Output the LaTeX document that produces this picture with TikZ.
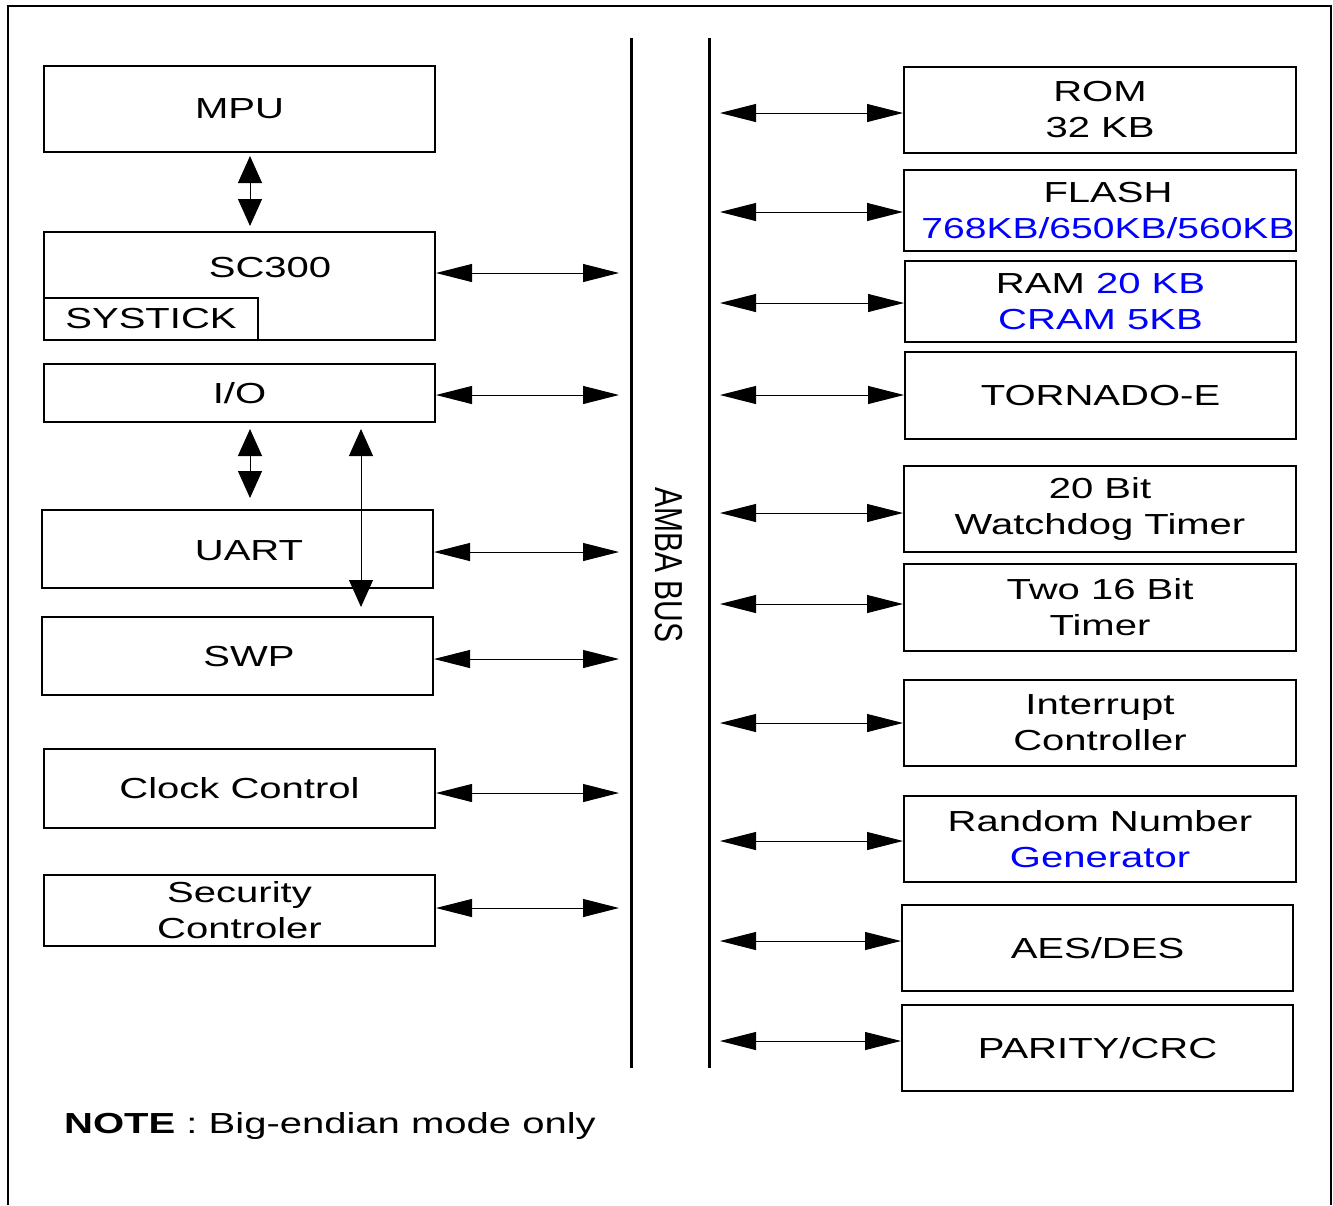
\documentclass[tikz,border=0pt]{standalone}
\usepackage{fontspec}
\setmainfont{Liberation Sans}[FakeStretch=1.38]
\newfontfamily\plainsans{Liberation Sans}
\usetikzlibrary{arrows.meta,calc}
\definecolor{mblue}{RGB}{0,0,255}
\begin{document}
\begin{tikzpicture}[x=1pt,y=-1pt,
  box/.style={draw, line width=2pt, inner sep=0pt, align=center, font=\fontsize{29}{36}\selectfont},
  txt/.style={inner sep=0pt, align=center, font=\fontsize{29}{36}\selectfont},
  harrow/.style={line width=1pt, {Triangle[length=36pt,width=18pt]}-{Triangle[length=36pt,width=18pt]}},
  varrow/.style={line width=1pt, {Triangle[length=27pt,width=24pt]}-{Triangle[length=27pt,width=24pt]}},
  bus/.style={line width=3pt},
  frame/.style={line width=2pt}]
\useasboundingbox (0,0) rectangle (1333,1205);
% outer frame
\draw[frame] (8,1205) -- (8,6) -- (1331,6) -- (1331,1205);
% bus
\coordinate (lbt) at (631,38); \coordinate (lbb) at (631,1068);
\coordinate (rbt) at (709,38); \coordinate (rbb) at (709,1068);
\draw[bus] (lbt) -- (lbb);
\draw[bus] (rbt) -- (rbb);
\coordinate (lb) at (619,0);
\coordinate (rb) at (720,0);
\node[rotate=-90, inner sep=0pt] (amba) at (669,565) {\scalebox{1}[1.3]{\plainsans\fontsize{30}{36}\selectfont AMBA BUS}};
% left boxes
\node[box, minimum width=391, minimum height=86] (mpu) at (239.5,109) {MPU};
\node[box, minimum width=391, minimum height=108] (sc300) at (239.5,286) {};
\node[txt] (sc300t) at (270,268) {SC300};
\node[box, minimum width=214, minimum height=42] (systick) at (151,319) {SYSTICK};
\node[box, minimum width=391, minimum height=58] (io) at (239.5,393) {I/O};
\node[box, minimum width=391, minimum height=78] (uart) at (237.5,549) {};
\node[txt] (uartt) at (249,551) {UART};
\node[box, minimum width=391, minimum height=78] (swp) at (237.5,656) {};
\node[txt] (swpt) at (249,657) {SWP};
\node[box, minimum width=391, minimum height=79] (clk) at (239.5,788.5) {Clock Control};
\node[box, minimum width=391, minimum height=71] (sec) at (239.5,910.5) {Security\\Controler};
% right boxes
\node[box, minimum width=392, minimum height=86] (rom) at (1100,110) {ROM\\32 KB};
\node[box, minimum width=392, minimum height=81] (flash) at (1100,210.5) {};
\node[txt] (flasht) at (1108,211) {FLASH\\\textcolor{mblue}{\scalebox{0.975}[1]{768KB/650KB/560KB}}};
\node[box, minimum width=391, minimum height=81] (ram) at (1100.5,301.5) {RAM \textcolor{mblue}{20 KB}\\\textcolor{mblue}{CRAM 5KB}};
\node[box, minimum width=391, minimum height=87] (tor) at (1100.5,395.5) {TORNADO-E};
\node[box, minimum width=392, minimum height=86] (wdt) at (1100,509) {20 Bit\\Watchdog Timer};
\node[box, minimum width=392, minimum height=87] (tim) at (1100,607.5) {Two 16 Bit\\Timer};
\node[box, minimum width=392, minimum height=86] (irq) at (1100,723) {Interrupt\\Controller};
\node[box, minimum width=392, minimum height=86] (rng) at (1100,839) {Random Number\\\textcolor{mblue}{Generator}};
\node[box, minimum width=391, minimum height=86] (aes) at (1097.5,948) {AES/DES};
\node[box, minimum width=391, minimum height=86] (crc) at (1097.5,1048) {PARITY/CRC};
% note
\node[anchor=base west, inner sep=0pt, font=\fontsize{29}{36}\selectfont] (note) at (64,1133) {\textbf{NOTE} : Big-endian mode only};
% vertical arrows
\coordinate (v0) at ([xshift=10.5pt]mpu.south);
\draw[varrow, shorten <=3pt, shorten >=5pt] (v0) -- (v0 |- sc300.north);
\coordinate (v1) at ([xshift=10.5pt]io.south);
\draw[varrow, shorten <=6pt, shorten >=11pt] (v1) -- (v1 |- uart.north);
\coordinate (v2) at ([xshift=121.5pt]io.south);
\draw[varrow, shorten <=6pt, shorten >=9pt] (v2) -- (v2 |- swp.north);
% left horizontal arrows
\coordinate (a1) at ([yshift=13pt]sc300.east);
\coordinate (a2) at ([yshift=-2pt]io.east);
\coordinate (a3) at ([yshift=-3pt]uart.east);
\coordinate (a4) at ([yshift=-3pt]swp.east);
\coordinate (a5) at ([yshift=-4.5pt]clk.east);
\coordinate (a6) at ([yshift=2.5pt]sec.east);
\foreach \a in {a1,a2,a3,a4,a5,a6} \draw[harrow] (\a) -- (\a -| lb);
% right horizontal arrows
\coordinate (b1) at ([yshift=-3pt]rom.west);
\coordinate (b2) at ([yshift=-1.5pt]flash.west);
\coordinate (b3) at ([yshift=-1.5pt]ram.west);
\coordinate (b4) at ([yshift=0.5pt]tor.west);
\coordinate (b5) at ([yshift=-4pt]wdt.west);
\coordinate (b6) at ([yshift=3.5pt]tim.west);
\coordinate (b7) at (irq.west);
\coordinate (b8) at ([yshift=-2pt]rng.west);
\coordinate (b9) at ([yshift=7pt]aes.west);
\coordinate (b10) at ([yshift=7pt]crc.west);
\foreach \b in {b1,b2,b3,b4,b5,b6,b7,b8,b9,b10} \draw[harrow] (\b -| rb) -- (\b);
\end{tikzpicture}
\end{document}
